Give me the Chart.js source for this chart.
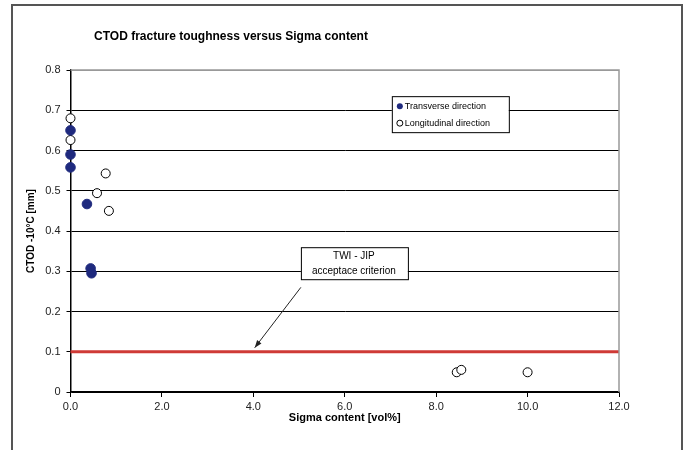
<!DOCTYPE html>
<html>
<head>
<meta charset="utf-8">
<script src="https://cdn.jsdelivr.net/npm/chart.js@4/dist/chart.umd.min.js"></script>
<style>
  body { margin: 0; background: #fff; }
</style>
</head>
<body>
<canvas id="ctodChart" width="689" height="450"></canvas>
<script>
// 데이터: 방향별 시그마 함량(x) 대 CTOD(y)
const transverseX = [0, 0, 0, 0.36, 0.44, 0.46];
const transverseY = [0.65, 0.59, 0.558, 0.467, 0.307, 0.295];
const longitudinalX = [0, 0, 0.58, 0.77, 0.84, 8.45, 8.55, 10.0];
const longitudinalY = [0.68, 0.626, 0.494, 0.543, 0.45, 0.049, 0.055, 0.049];
const criterionX = [0, 12];
const criterionY = [0.1, 0.1];
const xTicks = [0, 2, 4, 6, 8, 10, 12];
const yTicks = [0, 0.1, 0.2, 0.3, 0.4, 0.5, 0.6, 0.7, 0.8];

const toPoints = (xs, ys) => xs.map((x, i) => ({ x: x, y: ys[i] }));

const navy = "#1f2a7e";
const font = "'Liberation Sans', Arial, sans-serif";

// 범례, 주석, 외곽 프레임 그리기
const extras = {
    id: "extras",
    beforeDraw(chart) {
        const c = chart.ctx;
        c.save();
        c.strokeStyle = "#555";
        c.lineWidth = 2;
        c.beginPath();
        c.moveTo(12, 450);
        c.lineTo(12, 5);
        c.lineTo(682, 5);
        c.lineTo(682, 450);
        c.stroke();
        c.fillStyle = "#000";
        c.font = "bold 12px 'Liberation Sans Narrow', 'Liberation Sans', Arial";
        c.textAlign = "center";
        c.textBaseline = "middle";
        c.fillText("CTOD fracture toughness versus Sigma content", 231, 37);
        c.restore();
    },
    afterDraw(chart) {
        const c = chart.ctx;
        const xs = chart.scales.x;
        const ys = chart.scales.y;
        const a = chart.chartArea;
        c.save();
        // 플롯 영역 테두리 (위, 오른쪽)
        c.strokeStyle = "#999";
        c.lineWidth = 1.5;
        c.beginPath();
        c.moveTo(a.left, a.top);
        c.lineTo(a.right, a.top);
        c.lineTo(a.right, a.bottom);
        c.stroke();

        // 범례
        const lx = xs.getPixelForValue(7.03);
        const ly = ys.getPixelForValue(0.735);
        c.fillStyle = "#fff";
        c.fillRect(lx, ly, 117, 36);
        c.strokeStyle = "#000";
        c.lineWidth = 1;
        c.strokeRect(lx + 0.5, ly + 0.5, 117, 36);
        c.font = "9px " + font;
        c.textBaseline = "middle";
        c.textAlign = "left";
        c.fillStyle = navy;
        c.beginPath();
        c.arc(lx + 8, ly + 10, 3, 0, Math.PI * 2);
        c.fill();
        c.beginPath();
        c.arc(lx + 8, ly + 27, 3, 0, Math.PI * 2);
        c.strokeStyle = "#000";
        c.stroke();
        c.fillStyle = "#000";
        c.fillText("Transverse direction", lx + 13, ly + 10);
        c.fillText("Longitudinal direction", lx + 13, ly + 27);

        // 허용 기준 주석
        const bx = xs.getPixelForValue(6.2);
        const by = ys.getPixelForValue(0.32);
        c.fillStyle = "#fff";
        c.fillRect(bx - 53, by - 16, 107, 32);
        c.strokeRect(bx - 53 + 0.5, by - 16 + 0.5, 107, 32);
        c.fillStyle = "#000";
        c.font = "10px " + font;
        c.textAlign = "center";
        c.fillText("TWI - JIP", bx, by - 7);
        c.fillText("acceptace criterion", bx, by + 8);

        const sx = xs.getPixelForValue(5.04);
        const sy = ys.getPixelForValue(0.26);
        const ex = xs.getPixelForValue(4.03);
        const ey = ys.getPixelForValue(0.11);
        c.strokeStyle = "#222";
        c.lineWidth = 1;
        c.beginPath();
        c.moveTo(sx, sy);
        c.lineTo(ex, ey);
        c.stroke();
        const ang = Math.atan2(ey - sy, ex - sx);
        c.fillStyle = "#222";
        c.beginPath();
        c.moveTo(ex, ey);
        c.lineTo(ex - 8 * Math.cos(ang - 0.35), ey - 8 * Math.sin(ang - 0.35));
        c.lineTo(ex - 8 * Math.cos(ang + 0.35), ey - 8 * Math.sin(ang + 0.35));
        c.closePath();
        c.fill();
        c.restore();
    }
};

const ctx = document.getElementById("ctodChart").getContext("2d");
new Chart(ctx, {
    type: "scatter",
    data: {
        datasets: [
            {
                label: "TWI - JIP acceptace criterion",
                type: "line",
                data: toPoints(criterionX, criterionY),
                borderColor: "#cf3a36",
                borderWidth: 3,
                pointRadius: 0,
                order: 3,
            },
            {
                label: "Transverse direction",
                data: toPoints(transverseX, transverseY),
                backgroundColor: navy,
                borderColor: navy,
                pointRadius: 4.8,
                order: 1,
            },
            {
                label: "Longitudinal direction",
                data: toPoints(longitudinalX, longitudinalY),
                backgroundColor: "#fff",
                borderColor: "#000",
                borderWidth: 1,
                pointRadius: 4.5,
                order: 2,
            },
        ],
    },
    options: {
        responsive: false,
        animation: false,
        clip: false,
        layout: { padding: { top: 70, right: 70, left: 0, bottom: 0 } },
        plugins: {
            legend: { display: false },
            tooltip: { enabled: false },
        },
        scales: {
            x: {
                type: "linear",
                min: 0,
                max: 12,
                afterBuildTicks: (s) => { s.ticks = xTicks.map((v) => ({ value: v })); },
                afterFit: (s) => { s.height = 58; },
                ticks: {
                    color: "#222",
                    font: { family: font, size: 11 },
                    padding: 3,
                    maxRotation: 0,
                    callback: (v) => Number(v).toFixed(1),
                },
                grid: { drawOnChartArea: false, drawTicks: true, tickLength: 5, color: "#000" },
                border: { color: "#000", width: 1.5 },
                title: {
                    display: true,
                    text: "Sigma content [vol%]",
                    color: "#000",
                    font: { family: font, size: 11, weight: "bold" },
                    padding: { top: 0, bottom: 25 },
                },
            },
            y: {
                type: "linear",
                min: 0,
                max: 0.8,
                afterBuildTicks: (s) => { s.ticks = yTicks.map((v) => ({ value: v })); },
                afterFit: (s) => { s.width = 70.5; },
                ticks: {
                    color: "#222",
                    font: { family: font, size: 11 },
                    padding: 6,
                    callback: (v) => (v === 0 ? "0" : Number(v).toFixed(1)),
                },
                grid: {
                    color: (c) => (c.tick && c.tick.value === 0.8 ? "#999" : "#000"),
                    lineWidth: 1,
                    tickLength: 4,
                    tickColor: "#000",
                },
                border: { color: "#000", width: 1.5 },
                title: {
                    display: true,
                    text: "CTOD -10°C [mm]",
                    color: "#000",
                    font: { family: font, size: 10, weight: "bold" },
                    padding: { top: 25, bottom: 0 },
                },
            },
        },
    },
    plugins: [extras],
});
</script>
</body>
</html>
